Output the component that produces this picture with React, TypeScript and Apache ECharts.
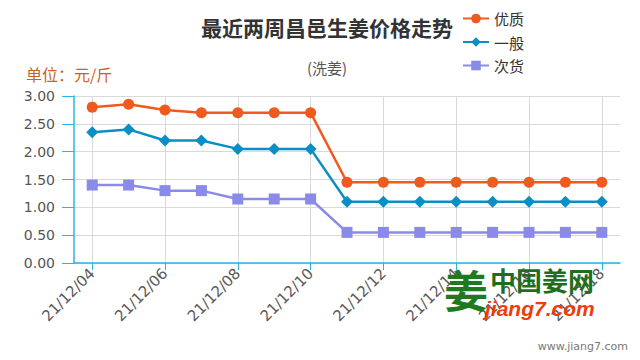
import React, { useEffect, useRef } from "react";
import * as echarts from "echarts";

const dates = [
  "21/12/04", "21/12/05", "21/12/06", "21/12/07", "21/12/08", "21/12/09", "21/12/10",
  "21/12/11", "21/12/12", "21/12/13", "21/12/14", "21/12/15", "21/12/16", "21/12/17", "21/12/18",
];
const premium = [2.8, 2.85, 2.75, 2.7, 2.7, 2.7, 2.7, 1.45, 1.45, 1.45, 1.45, 1.45, 1.45, 1.45, 1.45];
const normal = [2.35, 2.4, 2.2, 2.2, 2.05, 2.05, 2.05, 1.1, 1.1, 1.1, 1.1, 1.1, 1.1, 1.1, 1.1];
const inferior = [1.4, 1.4, 1.3, 1.3, 1.15, 1.15, 1.15, 0.55, 0.55, 0.55, 0.55, 0.55, 0.55, 0.55, 0.55];
const seriesNames = ["优质", "一般", "次货"];

const AXIS_BLUE = "#2ab4e6";
const FONT = "'Noto Sans CJK SC', 'Open Sans', sans-serif";
const NUM_FONT = "'DejaVu Sans', sans-serif";

export default function App() {
  const ref = useRef<HTMLDivElement>(null);
  useEffect(() => {
    if (!ref.current) return;
    const chart = echarts.init(ref.current, null, { renderer: "svg" });
    chart.setOption({
      animation: false,
      backgroundColor: "#ffffff",
      textStyle: { fontFamily: FONT },
      title: [
        {
          text: "最近两周昌邑生姜价格走势",
          left: 322,
          top: 11,
          textAlign: "center",
          textStyle: { fontSize: 21, fontWeight: "bold", color: "#333", fontFamily: FONT },
        },
        {
          text: "(洗姜)",
          left: 322,
          top: 55,
          textAlign: "center",
          textStyle: { fontSize: 15, fontWeight: "normal", color: "#555", fontFamily: FONT },
        },
        {
          text: "单位：元/斤",
          left: 21,
          top: 61,
          textStyle: { fontSize: 16, fontWeight: "normal", color: "#c8641e", fontFamily: FONT },
        },
      ],
      legend: {
        orient: "vertical",
        left: 457,
        top: 6,
        itemGap: 8.5,
        itemWidth: 26,
        itemHeight: 12,
        textStyle: { fontSize: 15, color: "#333", fontFamily: FONT },
        data: seriesNames,
      },
      grid: { left: 74, right: 20, top: 96, bottom: 97 },
      xAxis: {
        type: "category",
        data: dates,
        boundaryGap: true,
        axisLine: { lineStyle: { color: AXIS_BLUE, width: 1.5 } },
        axisTick: { show: true, alignWithLabel: true, interval: 1, length: 7, lineStyle: { color: AXIS_BLUE } },
        axisLabel: { interval: 1, rotate: 45, color: "#5a5a5a", fontSize: 15, margin: 8, fontFamily: NUM_FONT },
        splitLine: { show: true, interval: 1, alignWithLabel: true, lineStyle: { color: "#d9d9d9" } },
      },
      yAxis: {
        type: "value",
        min: 0,
        max: 3,
        interval: 0.5,
        axisLine: { show: true, lineStyle: { color: AXIS_BLUE, width: 1.5 } },
        axisTick: { show: true, length: 12, lineStyle: { color: AXIS_BLUE } },
        axisLabel: {
          color: "#555",
          fontSize: 14,
          margin: 19,
          fontFamily: NUM_FONT,
          formatter: (v: number) => v.toFixed(2),
        },
        splitLine: { show: true, lineStyle: { color: "#d9d9d9" } },
      },
      series: [
        {
          name: seriesNames[0],
          type: "line",
          data: premium,
          symbol: "circle",
          symbolSize: 11,
          itemStyle: { color: "#f05a1e" },
          lineStyle: { color: "#f05a1e", width: 2.5 },
        },
        {
          name: seriesNames[1],
          type: "line",
          data: normal,
          symbol: "diamond",
          symbolSize: 12,
          itemStyle: { color: "#0b8ec6" },
          lineStyle: { color: "#0b8ec6", width: 2.5 },
        },
        {
          name: seriesNames[2],
          type: "line",
          data: inferior,
          symbol: "rect",
          symbolSize: 11,
          itemStyle: { color: "#8a8ae8" },
          lineStyle: { color: "#8a8ae8", width: 2.5 },
        },
      ],
      graphic: [
        {
          type: "text",
          left: 444,
          top: 267,
          z: 100,
          style: { text: "姜", fontSize: 44, fontWeight: "bold", fill: "#1f7a1f", fontFamily: FONT },
        },
        {
          type: "text",
          left: 490,
          top: 266,
          z: 100,
          style: { text: "中国姜网", fontSize: 26, fontWeight: "bold", fill: "#1e6e1e", fontFamily: FONT },
        },
        {
          type: "text",
          left: 485,
          top: 298,
          z: 100,
          style: {
            text: "jiang7.com",
            fontSize: 21,
            fontWeight: "bold",
            fontStyle: "italic",
            fill: "#f03c0a",
            fontFamily: "'Liberation Sans', Arial, sans-serif",
          },
        },
        {
          type: "text",
          right: 12,
          top: 341,
          style: { text: "www.jiang7.com", fontSize: 11, fill: "#777", fontFamily: NUM_FONT },
        },
      ],
    });
    return () => chart.dispose();
  }, []);
  return <div ref={ref} style={{ width: 640, height: 360, position: "absolute", left: 0, top: 0 }} />;
}
